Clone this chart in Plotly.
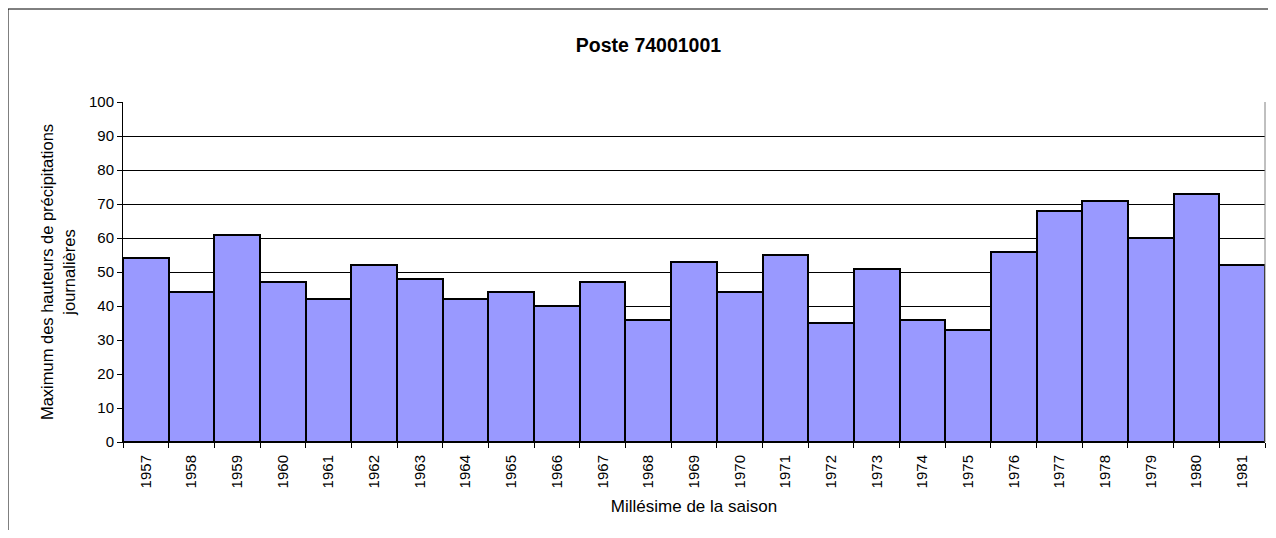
import plotly.graph_objects as go

years = ["1957", "1958", "1959", "1960", "1961", "1962", "1963", "1964", "1965",
         "1966", "1967", "1968", "1969", "1970", "1971", "1972", "1973", "1974",
         "1975", "1976", "1977", "1978", "1979", "1980", "1981"]
maxima = [54, 44, 61, 47, 42, 52, 48, 42, 44, 40, 47, 36, 53, 44, 55, 35, 51, 36,
          33, 56, 68, 71, 60, 73, 52]
y_ticks = [0, 10, 20, 30, 40, 50, 60, 70, 80, 90, 100]

title_text = "Poste 74001001"
x_title = "Millésime de la saison"
y_title = "Maximum des hauteurs de précipitations<br>journalières"

FONT = "Liberation Sans, Arial, sans-serif"

fig = go.Figure()
fig.add_trace(go.Bar(
    x=years, y=maxima,
    marker=dict(color="#9999FF", line=dict(color="black", width=2)),
    width=1.0,
))

# page body has an 8px margin; figure sized to fit the 1276x538 window
W, H = 1260, 522
L, R, T, B = 115, 3, 94, 88
pw, ph = W - L - R, H - T - B

fig.update_layout(
    width=W, height=H,
    margin=dict(l=L, r=R, t=T, b=B, pad=0),
    paper_bgcolor="white", plot_bgcolor="white",
    bargap=0,
    showlegend=False,
    font=dict(family=FONT, size=15, color="black"),
    title=dict(text="<b>" + title_text + "</b>", x=640.5 / W, xanchor="center",
               y=1 - 36.7 / H, yanchor="middle", font=dict(size=19.5, family=FONT)),
    xaxis=dict(
        type="category", tickangle=-90, ticks="outside", ticklen=5,
        tickcolor="black", tickson="boundaries", showgrid=False,
        showline=True, linecolor="black", linewidth=1,
        tickfont=dict(size=15), ticklabelstandoff=6,
        title=dict(text=x_title, font=dict(size=17), standoff=12),
    ),
    yaxis=dict(
        range=[0, 100], tickvals=y_ticks, ticks="outside", ticklen=5,
        tickcolor="black", showgrid=True, gridcolor="black", gridwidth=1,
        showline=True, linecolor="black", linewidth=1, zeroline=False,
        tickfont=dict(size=15),
        title=dict(text=y_title, font=dict(size=16.5), standoff=9),
    ),
    shapes=[
        dict(type="rect", xref="paper", yref="paper",
             x0=-L / pw, x1=1.2, y0=-1.0, y1=(H - B - 1) / ph,
             line=dict(color="black", width=1), fillcolor="rgba(0,0,0,0)", layer="below"),
        dict(type="line", xref="paper", yref="paper", x0=1, x1=1, y0=0, y1=1,
             line=dict(color="#808080", width=1)),
    ],
)

fig.write_html("out.html")
